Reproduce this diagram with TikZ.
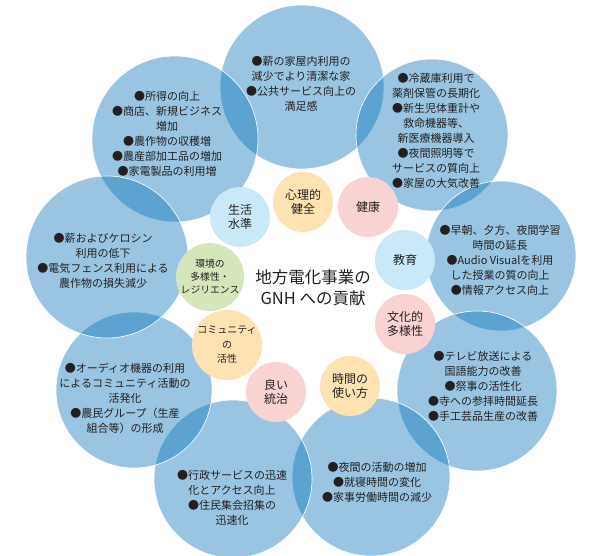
\documentclass[tikz,border=0pt]{standalone}
\usepackage{fontspec}
\setmainfont{Noto Sans CJK JP}
\usepackage{tikz}
\definecolor{bigblue}{RGB}{0,111,183}
\definecolor{txtgray}{RGB}{35,31,32}
\definecolor{sorange}{RGB}{253,226,178}
\definecolor{spink}{RGB}{249,210,210}
\definecolor{sblue}{RGB}{201,233,248}
\definecolor{sgreen}{RGB}{212,230,186}

\begin{document}
\begin{tikzpicture}[x = 1pt, y = -1pt,
        bigc/.style = {shape = circle, draw = white, line width = 0.6pt, fill = bigblue, fill opacity = 0.4, inner sep = 0pt},
        smallc/.style = {shape = circle, minimum size = 60pt, inner sep = 0pt, align = center, text = txtgray, font = \fontsize{12}{14.5}\selectfont},
        orc/.style = {smallc, fill = sorange},
        pkc/.style = {smallc, fill = spink},
        blc/.style = {smallc, fill = sblue},
        grc/.style = {smallc, fill = sgreen},
        txt/.style = {align = center, text = txtgray, inner sep = 0pt, font = \fontsize{11}{15}\selectfont},
    ]
    \useasboundingbox (0,0) rectangle (591,556);
    % big circles
    \node[bigc, minimum size = 164pt] (Top) at (302, 87) {};
    \node[bigc, minimum size = 166pt] (TopL) at (175, 139) {};
    \node[bigc, minimum size = 152pt] (TopR) at (432, 135) {};
    \node[bigc, minimum size = 150pt] (Rgt) at (501, 256) {};
    \node[bigc, minimum size = 160pt] (BotR) at (477, 391) {};
    \node[bigc, minimum size = 158pt] (Bot) at (371, 477) {};
    \node[bigc, minimum size = 158pt] (BotL) at (233, 479) {};
    \node[bigc, minimum size = 156pt] (LftB) at (134, 390) {};
    \node[bigc, minimum size = 162pt] (Lft) at (107, 257) {};

    % small circles
    \node[orc] (psy) at (303, 202) {心理的\\健全};
    \node[pkc] (hea) at (368, 207) {健康};
    \node[blc] (edu) at (405, 260) {教育};
    \node[pkc] (cul) at (405, 324) {文化的\\多様性};
    \node[orc] (tim) at (350, 386) {時間の\\使い方};
    \node[pkc] (gov) at (276, 392) {良い\\統治};
    \node[orc, font = \fontsize{10}{14.5}\selectfont] (com) at (227, 345) {コミュニティ\\の\\活性};
    \node[grc, font = \fontsize{9.8}{13}\selectfont] (env) at (210, 277) {環境の\\多様性・\\レジリエンス};
    \node[blc] (liv) at (240, 217) {生活\\水準};

    \node[txt, font = \fontsize{16.5}{21}\selectfont] (gnh) at (313, 288) {地方電化事業の\\GNH への貢献};

    % texts of the big circles
    \node[txt] (tTop) at (301, 84) {●薪の家屋内利用の\\減少でより清潔な家\\●公共サービス向上の\\満足感};
    \node[txt] (tTopL) at (167, 134) {●所得の向上\\●商店、新規ビジネス\\増加\\●農作物の収穫増\\●農産部加工品の増加\\●家電製品の利用増};
    \node[txt] (tTopR) at (436, 131) {●冷蔵庫利用で\\薬剤保管の長期化\\●新生児体重計や\\救命機器等、\\新医療機器導入\\●夜間照明等で\\サービスの質向上\\●家屋の大気改善};
    \node[txt] (tRgt) at (500, 260) {●早朝、夕方、夜間学習\\時間の延長\\●Audio Visualを利用\\した授業の質の向上\\●情報アクセス向上};
    \node[txt] (tBotR) at (483, 386) {●テレビ放送による\\国語能力の改善\\●祭事の活性化\\●寺への参拝時間延長\\●手工芸品生産の改善};
    \node[txt] (tBot) at (377, 482) {●夜間の活動の増加\\●就寝時間の変化\\●家事労働時間の減少};
    \node[txt] (tBotL) at (232, 498) {●行政サービスの迅速\\化とアクセス向上\\●住民集会招集の\\迅速化};
    \node[txt] (tLftB) at (125, 398) {●オーディオ機器の利用\\によるコミュニティ活動の\\活発化\\●農民グループ（生産\\組合等）の形成};
    \node[txt] (tLft) at (103, 261) {●薪およびケロシン\\利用の低下\\●電気フェンス利用による\\農作物の損失減少};
\end{tikzpicture}
\end{document}
